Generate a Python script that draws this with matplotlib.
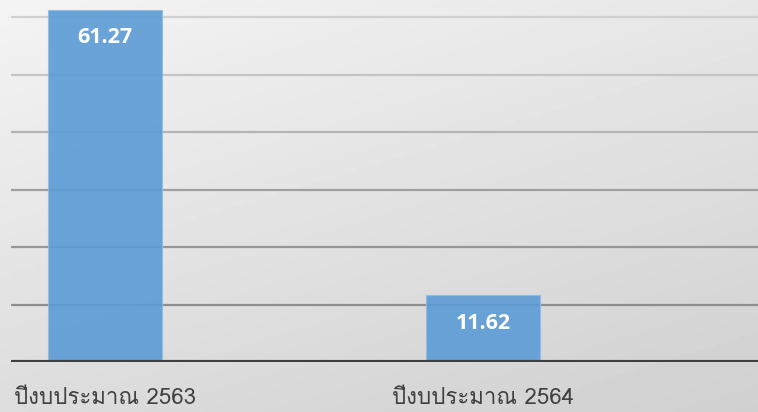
import numpy as np
import matplotlib
matplotlib.use('Agg')
import matplotlib.pyplot as plt
from matplotlib import font_manager
from matplotlib.ft2font import FT2Font

categories = ['ปีงบประมาณ 2563', 'ปีงบประมาณ 2564']
values = [61.27, 11.62]
value_labels = ['61.27', '11.62']
yticks = [10, 20, 30, 40, 50, 60]


def find_thai_family():
    for f in font_manager.fontManager.ttflist:
        try:
            if 0x0E1B in FT2Font(f.fname).get_charmap():
                return f.name
        except Exception:
            pass
    return None


thai = find_thai_family()
families = ([thai] if thai else []) + ['Open Sans', 'DejaVu Sans']
plt.rcParams['font.family'] = families

fig = plt.figure(figsize=(7.58, 4.12), dpi=100)

# gradient background over the whole figure
bg = fig.add_axes([0, 0, 1, 1], zorder=-10)
gx, gy = np.meshgrid(np.linspace(0, 1, 200), np.linspace(0, 1, 120))
shade = 0.955 - 0.09 * gy - 0.05 * gx
bg.imshow(shade, cmap='gray', vmin=0, vmax=1, aspect='auto', extent=[0, 1, 0, 1])
bg.axis('off')

ax = fig.add_axes([11 / 758, 50 / 412, 747 / 758, 362 / 412])
ax.patch.set_alpha(0)
x = np.arange(len(categories))
ax.set_xlim(-0.249, 1.727)
ax.set_ylim(0, 63)

# lower gridlines are darker than the upper ones
grid_grays = ['#8e8e8e', '#969696', '#a0a0a0', '#b4b4b4', '#c4c4c4', '#d0d0d0']
for t, c in zip(yticks, grid_grays):
    ax.axhline(t, color=c, lw=1.6, zorder=1)

bars = ax.bar(x, values, width=0.30, color='#5b9bd5', alpha=0.9,
              edgecolor='#8fbce6', linewidth=0.8, zorder=2)

ax.axhline(0, color='#3f3f3f', lw=3.0, zorder=3)

for xi, v, lab in zip(x, values, value_labels):
    ax.annotate(lab, (xi, v), xytext=(0, -28), textcoords='offset pixels',
                ha='center', va='center', color='white', fontsize=15.5,
                fontweight='bold', family=['Open Sans', 'DejaVu Sans'], zorder=4)

ax.set_xticks(x)
ax.set_xticklabels(categories, fontsize=16, color='#404040')
ax.tick_params(axis='x', length=0, pad=19)
ax.set_yticks([])
for s in ax.spines.values():
    s.set_visible(False)

fig.savefig('out.png', dpi=100)
